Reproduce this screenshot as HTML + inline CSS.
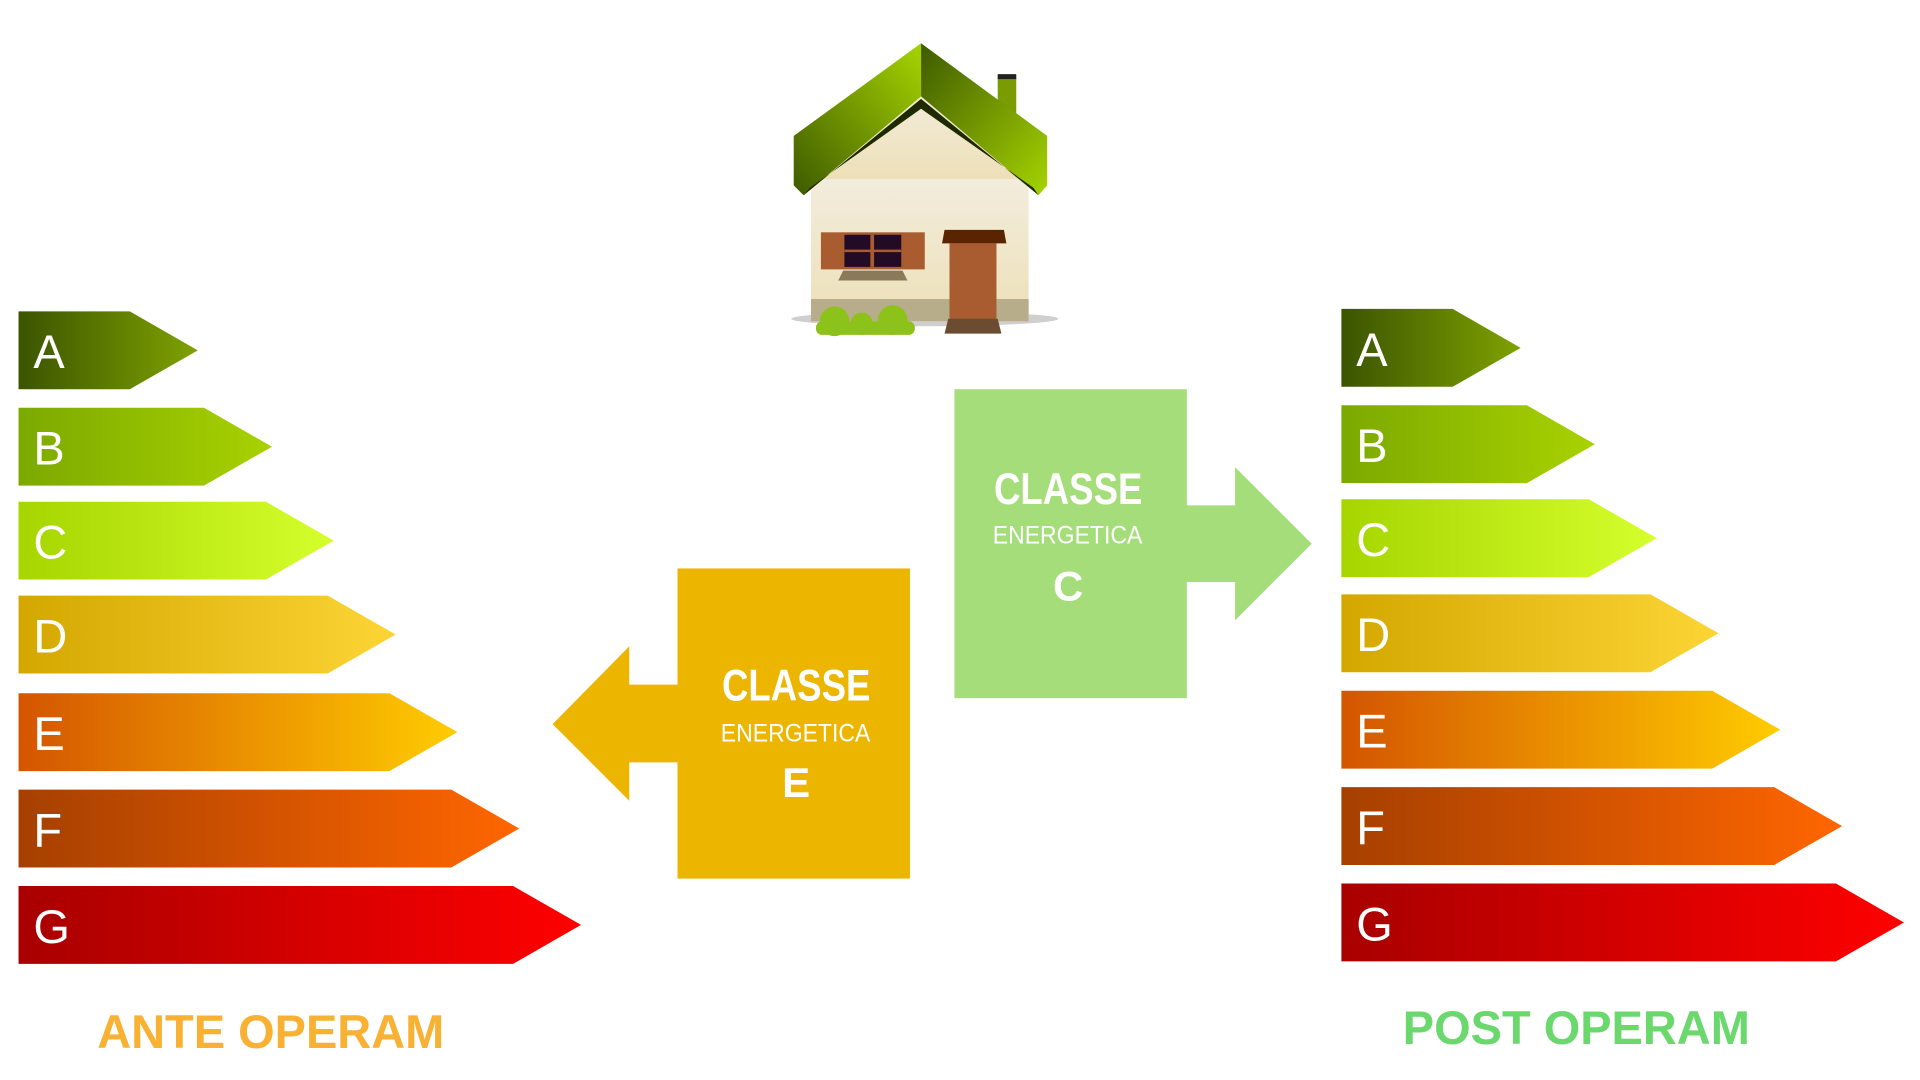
<!DOCTYPE html>
<html><head><meta charset="utf-8"><style>
html,body{margin:0;padding:0;background:#fff;overflow:hidden}
svg{display:block}
</style></head><body>
<svg width="1920" height="1080" viewBox="0 0 1553 874" preserveAspectRatio="none" xmlns="http://www.w3.org/2000/svg">
<defs>
<linearGradient id="gA"><stop offset="0" stop-color="#3b5400"/><stop offset="1" stop-color="#7fa200"/></linearGradient>
<linearGradient id="gB"><stop offset="0" stop-color="#7ca900"/><stop offset="1" stop-color="#a8d200"/></linearGradient>
<linearGradient id="gC"><stop offset="0" stop-color="#a6d500"/><stop offset="1" stop-color="#d5ff2c"/></linearGradient>
<linearGradient id="gD"><stop offset="0" stop-color="#d4a700"/><stop offset="1" stop-color="#fcd535"/></linearGradient>
<linearGradient id="gE"><stop offset="0" stop-color="#d45500"/><stop offset="1" stop-color="#ffcc00"/></linearGradient>
<linearGradient id="gF"><stop offset="0" stop-color="#a64000"/><stop offset="1" stop-color="#ff6600"/></linearGradient>
<linearGradient id="gG"><stop offset="0" stop-color="#a80000"/><stop offset="1" stop-color="#ff0000"/></linearGradient>
<linearGradient id="roofL" x1="0" y1="1" x2="1" y2="0"><stop offset="0" stop-color="#3e5a00"/><stop offset="1" stop-color="#a6d400"/></linearGradient>
<linearGradient id="roofR" x1="0" y1="0" x2="1" y2="1"><stop offset="0" stop-color="#3e5a00"/><stop offset="1" stop-color="#a6d400"/></linearGradient>
<linearGradient id="wall" x1="0" y1="0" x2="0" y2="1"><stop offset="0" stop-color="#f4efe4"/><stop offset="1" stop-color="#ede0b8"/></linearGradient>
</defs>

<g font-family="'Liberation Sans',sans-serif" font-size="38" fill="#fff">
<polygon points="15,252 105,252 160,283.5 105,315 15,315" fill="url(#gA)"/><text x="27" y="298">A</text>
<polygon points="15,330 165,330 220,361.5 165,393 15,393" fill="url(#gB)"/><text x="27" y="376">B</text>
<polygon points="15,406 215,406 270,437.5 215,469 15,469" fill="url(#gC)"/><text x="27" y="452">C</text>
<polygon points="15,482 265,482 320,513.5 265,545 15,545" fill="url(#gD)"/><text x="27" y="528">D</text>
<polygon points="15,561 315,561 370,592.5 315,624 15,624" fill="url(#gE)"/><text x="27" y="607">E</text>
<polygon points="15,639 365,639 420,670.5 365,702 15,702" fill="url(#gF)"/><text x="27" y="685">F</text>
<polygon points="15,717 415,717 470,748.5 415,780 15,780" fill="url(#gG)"/><text x="27" y="763">G</text>
<polygon points="1085,250 1175,250 1230,281.5 1175,313 1085,313" fill="url(#gA)"/><text x="1097" y="296">A</text>
<polygon points="1085,328 1235,328 1290,359.5 1235,391 1085,391" fill="url(#gB)"/><text x="1097" y="374">B</text>
<polygon points="1085,404 1285,404 1340,435.5 1285,467 1085,467" fill="url(#gC)"/><text x="1097" y="450">C</text>
<polygon points="1085,481 1335,481 1390,512.5 1335,544 1085,544" fill="url(#gD)"/><text x="1097" y="527">D</text>
<polygon points="1085,559 1385,559 1440,590.5 1385,622 1085,622" fill="url(#gE)"/><text x="1097" y="605">E</text>
<polygon points="1085,637 1435,637 1490,668.5 1435,700 1085,700" fill="url(#gF)"/><text x="1097" y="683">F</text>
<polygon points="1085,715 1485,715 1540,746.5 1485,778 1085,778" fill="url(#gG)"/><text x="1097" y="761">G</text>
</g>

<rect x="548" y="460" width="188" height="251" fill="#ecb500"/>
<polygon points="549,554 509,554 509,523 447,586 509,648 509,617 549,617" fill="#ecb500"/>
<g fill="#fff" font-family="'Liberation Sans Narrow','Liberation Sans',sans-serif">
<text x="584" y="567" font-size="36" font-weight="bold" textLength="120" lengthAdjust="spacingAndGlyphs">CLASSE</text>
<text x="583" y="600" font-size="20" textLength="121" lengthAdjust="spacingAndGlyphs">ENERGETICA</text>
<text x="644" y="645" font-size="34" font-weight="bold" text-anchor="middle">E</text>
</g>
<rect x="772" y="315" width="188" height="250" fill="#a4dd79"/>
<polygon points="959,409 999,409 999,378 1061,440 999,502 999,471 959,471" fill="#a4dd79"/>
<g fill="#fff" font-family="'Liberation Sans Narrow','Liberation Sans',sans-serif">
<text x="804" y="408" font-size="36" font-weight="bold" textLength="120" lengthAdjust="spacingAndGlyphs">CLASSE</text>
<text x="803" y="440" font-size="20" textLength="121" lengthAdjust="spacingAndGlyphs">ENERGETICA</text>
<text x="864" y="486" font-size="34" font-weight="bold" text-anchor="middle">C</text>
</g>

<g font-family="'Liberation Sans',sans-serif" font-weight="bold" font-size="38" text-anchor="middle">
<text x="219" y="848" fill="#f8b133">ANTE OPERAM</text>
<text x="1275" y="845" fill="#6bd86e">POST OPERAM</text>
</g>

<ellipse cx="748" cy="258" rx="108" ry="6" fill="#bbb" opacity="0.7"/>
<rect x="656" y="120" width="176" height="140" fill="url(#wall)"/>
<polygon points="656,120 745,58 832,120 832,145 656,145" fill="url(#wall)"/>
<rect x="656" y="242" width="176" height="18" fill="#b8ad8a"/>
<rect x="807" y="62" width="15" height="40" fill="#7a9c00"/>
<rect x="807" y="60" width="15" height="4" fill="#222"/>
<polygon points="642,110 745,35 745,78 650,158 642,150" fill="url(#roofL)"/>
<polygon points="745,35 847,110 847,150 840,158 745,78" fill="url(#roofR)"/>
<polygon points="650,158 745,80 840,158 836,152 745,88 655,152" fill="#1e2a00"/>
<rect x="664" y="188" width="84" height="30" fill="#a85c30"/>
<rect x="683" y="190" width="46" height="26" fill="#230b26"/>
<rect x="704" y="190" width="3" height="26" fill="#a85c30"/>
<rect x="683" y="202" width="46" height="2" fill="#a85c30"/>
<polygon points="682,219 730,219 734,227 678,227" fill="#8a7a5a"/>
<polygon points="764,186 812,186 814,197 762,197" fill="#5a2400"/>
<rect x="768" y="197" width="38" height="63" fill="#a85c30"/>
<polygon points="767,258 807,258 810,270 764,270" fill="#6b4c30"/>
<g fill="#8cc21a"><circle cx="675" cy="260" r="12"/><circle cx="697" cy="262" r="9"/><circle cx="722" cy="259" r="12"/><rect x="660" y="260" width="80" height="11" rx="5"/></g>
</svg>
</body></html>
